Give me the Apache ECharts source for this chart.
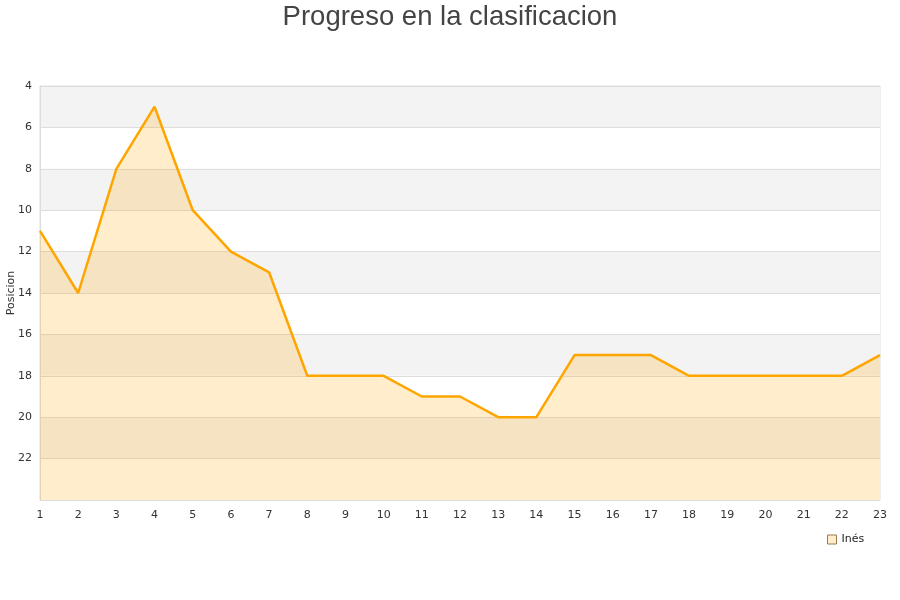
<!DOCTYPE html>
<html>
<head>
<meta charset="utf-8">
<script src="https://cdn.jsdelivr.net/npm/echarts@6/dist/echarts.min.js"></script>
<style>html,body{margin:0;padding:0;background:#fff}#c{width:900px;height:600px}</style>
</head>
<body>
<div id="c"></div>
<script>
const jornadas = ['1','2','3','4','5','6','7','8','9','10','11','12','13','14','15','16','17','18','19','20','21','22','23'];
const posiciones = [11,14,8,5,10,12,13,18,18,18,19,19,20,20,17,17,17,18,18,18,18,18,17];
const seriesName = 'Inés';
const chart = echarts.init(document.getElementById('c'));
chart.setOption({
  animation: false,
  backgroundColor: '#fff',
  title: {
    text: 'Progreso en la clasificacion',
    left: 'center', top: -2,
    textStyle: { fontSize: 27.5, fontWeight: 'normal', color: '#444', fontFamily: 'Liberation Sans, Arial, sans-serif' }
  },
  legend: {
    data: [seriesName],
    left: 822, top: 529,
    itemWidth: 9, itemHeight: 9, itemGap: 8,
    icon: 'rect',
    textStyle: { fontSize: 11, color: '#222', fontFamily: 'DejaVu Sans, sans-serif' },
    itemStyle: { color: '#ffedcc', borderColor: '#9a7a50', borderWidth: 1 }
  },
  grid: { left: 40, right: 20, top: 86, bottom: 100, containLabel: false, outerBoundsMode: 'none', show: true, borderColor: '#ddd', borderWidth: 1 },
  xAxis: {
    type: 'category', data: jornadas, boundaryGap: false,
    axisLine: { lineStyle: { color: '#ddd' } },
    axisTick: { show: false },
    axisLabel: { color: '#333', fontSize: 11, margin: 10, fontFamily: 'DejaVu Sans, sans-serif' },
    splitLine: { show: false }
  },
  yAxis: {
    type: 'value', inverse: true, min: 4, max: 24, interval: 2,
    name: 'Posicion', nameLocation: 'middle', nameGap: 23, nameMoveOverlap: false,
    nameTextStyle: { fontSize: 11, color: '#333', fontFamily: 'DejaVu Sans, sans-serif' },
    axisLine: { show: true, lineStyle: { color: '#ddd' } },
    axisTick: { show: false },
    axisLabel: { color: '#333', fontSize: 11, margin: 8, fontFamily: 'DejaVu Sans, sans-serif',
      formatter: v => v === 24 ? '' : v },
    splitLine: { show: true, lineStyle: { color: '#ddd' } },
    splitArea: { show: true, areaStyle: { color: ['#f3f3f3', '#ffffff'] } }
  },
  series: [{
    name: seriesName, type: 'line', data: posiciones,
    showSymbol: false, symbol: 'none',
    lineStyle: { color: '#ffa500', width: 2.5 },
    itemStyle: { color: '#ffa500' },
    areaStyle: { color: 'rgba(255,165,0,0.2)', opacity: 1, origin: 'end' }
  }]
});
</script>
</body>
</html>
